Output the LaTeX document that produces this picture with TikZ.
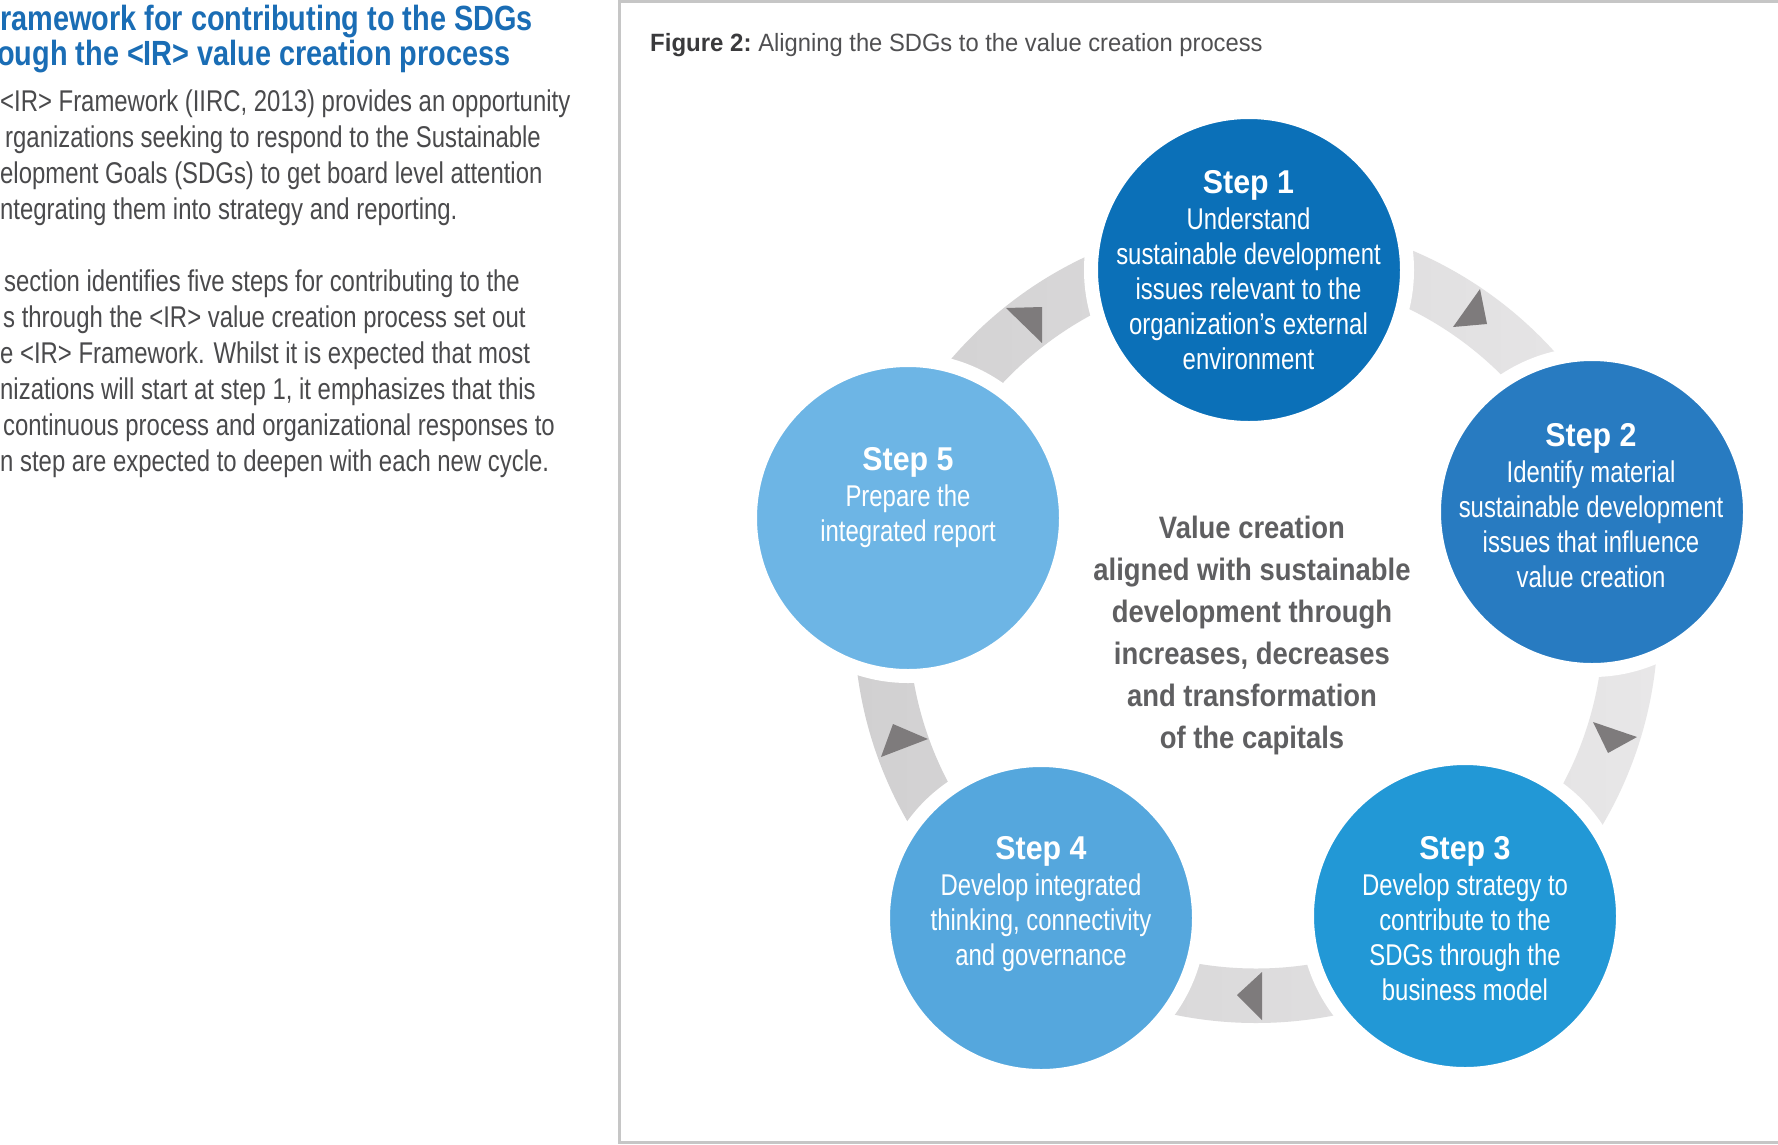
\documentclass[tikz,border=0pt]{standalone}
\usepackage{fontspec}
\setmainfont{Liberation Sans}
\newfontfamily\fBody[FakeStretch=0.797]{Liberation Sans}
\newfontfamily\fHead[FakeStretch=0.825]{Liberation Sans}
\newfontfamily\fStep[FakeStretch=0.92]{Liberation Sans}
\newfontfamily\fCenter[FakeStretch=0.885]{Liberation Sans}
\newfontfamily\fTitle[FakeStretch=0.95]{Liberation Sans}
\newfontfamily\fTitleB[FakeStretch=0.96]{Liberation Sans}
\definecolor{sA}{HTML}{0B70B8}
\definecolor{sB}{HTML}{287BC1}
\definecolor{sC}{HTML}{2298D6}
\definecolor{sD}{HTML}{55A7DD}
\definecolor{sE}{HTML}{6DB5E5}
\definecolor{ringL}{HTML}{D1D0D1}
\definecolor{ringR}{HTML}{E8E7E8}
\definecolor{tri}{HTML}{7E7B7C}
\definecolor{headblue}{HTML}{1A6DB5}
\definecolor{bodygray}{HTML}{4A4A4C}
\definecolor{centergray}{HTML}{5F5F61}
\definecolor{titlegray}{HTML}{505052}
\definecolor{titledark}{HTML}{3A3A3C}
\definecolor{framegray}{HTML}{C6C6C6}
\newcommand\steptitle[1]{{\fStep\bfseries\fontsize{33}{35}\selectfont #1}\\[1.2pt]}
\tikzset{
  stepcircle/.style={circle, minimum size=316pt, inner sep=0pt, draw=white, line width=14pt},
  steptext/.style={anchor=north, text=white, align=center, inner sep=0pt, font=\fBody\fontsize{30}{35}\selectfont},
  bodyline/.style={anchor=base west, inner sep=0pt, text=bodygray, font=\fBody\fontsize{30}{36}\selectfont},
  headline/.style={anchor=base west, inner sep=0pt, text=headblue, font=\fHead\bfseries\fontsize{35}{35}\selectfont},
  figtitle/.style={anchor=base west, inner sep=0pt, text=titlegray, font=\fTitle\fontsize{25}{28}\selectfont},
  centertext/.style={anchor=north, align=center, inner sep=0pt, text=centergray, font=\fCenter\bfseries\fontsize{31}{42}\selectfont},
  arrowhead/.style={fill=tri, draw=none}
}
\begin{document}
\begin{tikzpicture}[x=1pt,y=-1pt]
\useasboundingbox (0,0) rectangle (1778,1144);
\fill[white] (0,0) rectangle (1778,1144);
% frame
\draw[framegray, line width=2.2pt] (1780,1.5) -- (619.5,1.5) -- (619.5,1142.5) -- (1780,1142.5);
% left column
\node[headline] (hd1) at (0,30.5) {ramework for contributing to the SDGs};
\node[headline] (hd2) at (-3,65.5) {ough the <IR> value creation process};
\node[bodyline] (p1) at (0,111) {<IR> Framework (IIRC, 2013) provides an opportunity};
\node[bodyline] (p2) at (5,147) {rganizations seeking to respond to the Sustainable};
\node[bodyline] (p3) at (0,183) {elopment Goals (SDGs) to get board level attention};
\node[bodyline] (p4) at (0,219.5) {ntegrating them into strategy and reporting.};
\node[bodyline] (p5) at (4,291) {section identifies five steps for contributing to the};
\node[bodyline] (p6) at (3,327) {s through the <IR> value creation process set out};
\node[bodyline] (p7) at (0,363) {e <IR> Framework. Whilst it is expected that most};
\node[bodyline] (p8) at (0,399) {nizations will start at step 1, it emphasizes that this};
\node[bodyline] (p9) at (3,435) {continuous process and organizational responses to};
\node[bodyline] (p10) at (0,471) {n step are expected to deepen with each new cycle.};
% figure title
\node[figtitle] (ft) at (650,51.5) {{\fTitleB\bfseries\color{titledark}Figure 2:}\hspace{-2pt} Aligning the SDGs to the value creation process};
% ring
\shade[left color=ringL, right color=ringR, even odd rule]
  (1256,621) circle[radius=402pt] (1256,621) circle[radius=347.5pt];
% circles
\node[stepcircle, fill=sA] (s1) at (1249,270) {};
\node[stepcircle, fill=sB] (s2) at (1592,512) {};
\node[stepcircle, fill=sC] (s3) at (1465,916) {};
\node[stepcircle, fill=sD] (s4) at (1041,918) {};
\node[stepcircle, fill=sE] (s5) at (908,518) {};
% arrowheads
\fill[arrowhead] (1480,289) -- (1453,327) -- (1487,324) -- cycle;
\fill[arrowhead] (1593,722) -- (1637,737) -- (1608,753) -- cycle;
\fill[arrowhead] (1262,972) -- (1262,1020) -- (1237,995) -- cycle;
\fill[arrowhead] (928,739) -- (881,757) -- (893,724) -- cycle;
\fill[arrowhead] (1006,308) -- (1042,343) -- (1042,307) -- cycle;
% texts
\node[steptext] (t1) at (1248.5,170.5) {\steptitle{Step 1}Understand\\sustainable development\\issues relevant to the\\organization’s external\\environment};
\node[steptext] (t2) at (1591,423.4) {\steptitle{Step 2}Identify material\\sustainable development\\issues that influence\\value creation};
\node[steptext] (t3) at (1465,836.2) {\steptitle{Step 3}Develop strategy to\\contribute to the\\SDGs through the\\business model};
\node[steptext] (t4) at (1041,836.2) {\steptitle{Step 4}Develop integrated\\thinking, connectivity\\and governance};
\node[steptext] (t5) at (908,447.2) {\steptitle{Step 5}Prepare the\\integrated report};
\node[centertext] (ct) at (1252,515.6) {Value creation\\aligned with sustainable\\development through\\increases, decreases\\and transformation\\of the capitals};
\end{tikzpicture}
\end{document}
